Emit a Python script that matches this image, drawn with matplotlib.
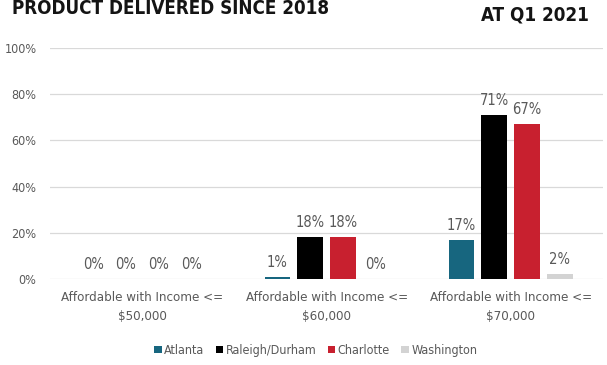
import matplotlib.pyplot as plt
import numpy as np
from matplotlib import font_manager

# narrow sans when available, otherwise DejaVu condensed
names = {f.name for f in font_manager.fontManager.ttflist}
narrow = [n for n in ("Liberation Sans Narrow", "DejaVu Sans Condensed") if n in names]
plt.rcParams["font.family"] = narrow + ["DejaVu Sans"]
plt.rcParams["font.stretch"] = "condensed"

categories = ["Affordable with Income <=\n$50,000",
              "Affordable with Income <=\n$60,000",
              "Affordable with Income <=\n$70,000"]
cities = ["Atlanta", "Raleigh/Durham", "Charlotte", "Washington"]
atlanta = [0, 1, 17]
raleigh = [0, 18, 71]
charlotte = [0, 18, 67]
washington = [0, 0, 2]
series = [atlanta, raleigh, charlotte, washington]
colors = ["#17667f", "#000000", "#c8202f", "#d3d3d3"]
grey_text = "#595959"

fig = plt.figure(figsize=(6.07, 3.65), dpi=100)
ax = fig.add_axes([0.083, 0.236, 0.91, 0.632])

x = np.arange(len(categories))
step = 0.178
width = 0.14
for i, (vals, col, name) in enumerate(zip(series, colors, cities)):
    pos = x + (i - 1.5) * step
    ax.bar(pos, vals, width=width, color=col, label=name, zorder=3)
    for p, v in zip(pos, vals):
        ax.text(p, v + 3, f"{v}%", ha="center", va="bottom",
                fontsize=10.5, color=grey_text)

ax.set_ylim(0, 100)
ax.set_xlim(-0.5, 2.5)
ax.set_yticks(range(0, 101, 20))
ax.set_yticklabels([f"{t}%" for t in range(0, 101, 20)], fontsize=9, color=grey_text)
ax.set_xticks(x)
ax.set_xticklabels(categories, fontsize=9.5, color=grey_text, linespacing=1.6)
ax.tick_params(length=0, pad=9)
ax.tick_params(axis="y", pad=10)
ax.grid(axis="y", color="#d9d9d9", linewidth=0.9, zorder=0)
for s in ax.spines.values():
    s.set_visible(False)

fig.legend(loc="center", bbox_to_anchor=(0.52, 0.04), ncol=4, frameon=False,
           fontsize=9, handlelength=0.6, handleheight=0.6, handletextpad=0.2,
           columnspacing=0.9, labelcolor=grey_text)

fig.text(0.02, 0.978, "PRODUCT DELIVERED SINCE 2018", fontsize=13.5, fontweight="bold",
         color="#141414", va="center")
fig.text(0.97, 0.958, "AT Q1 2021", fontsize=13.5, fontweight="bold",
         color="#141414", va="center", ha="right")

fig.savefig("out.png", dpi=100)
